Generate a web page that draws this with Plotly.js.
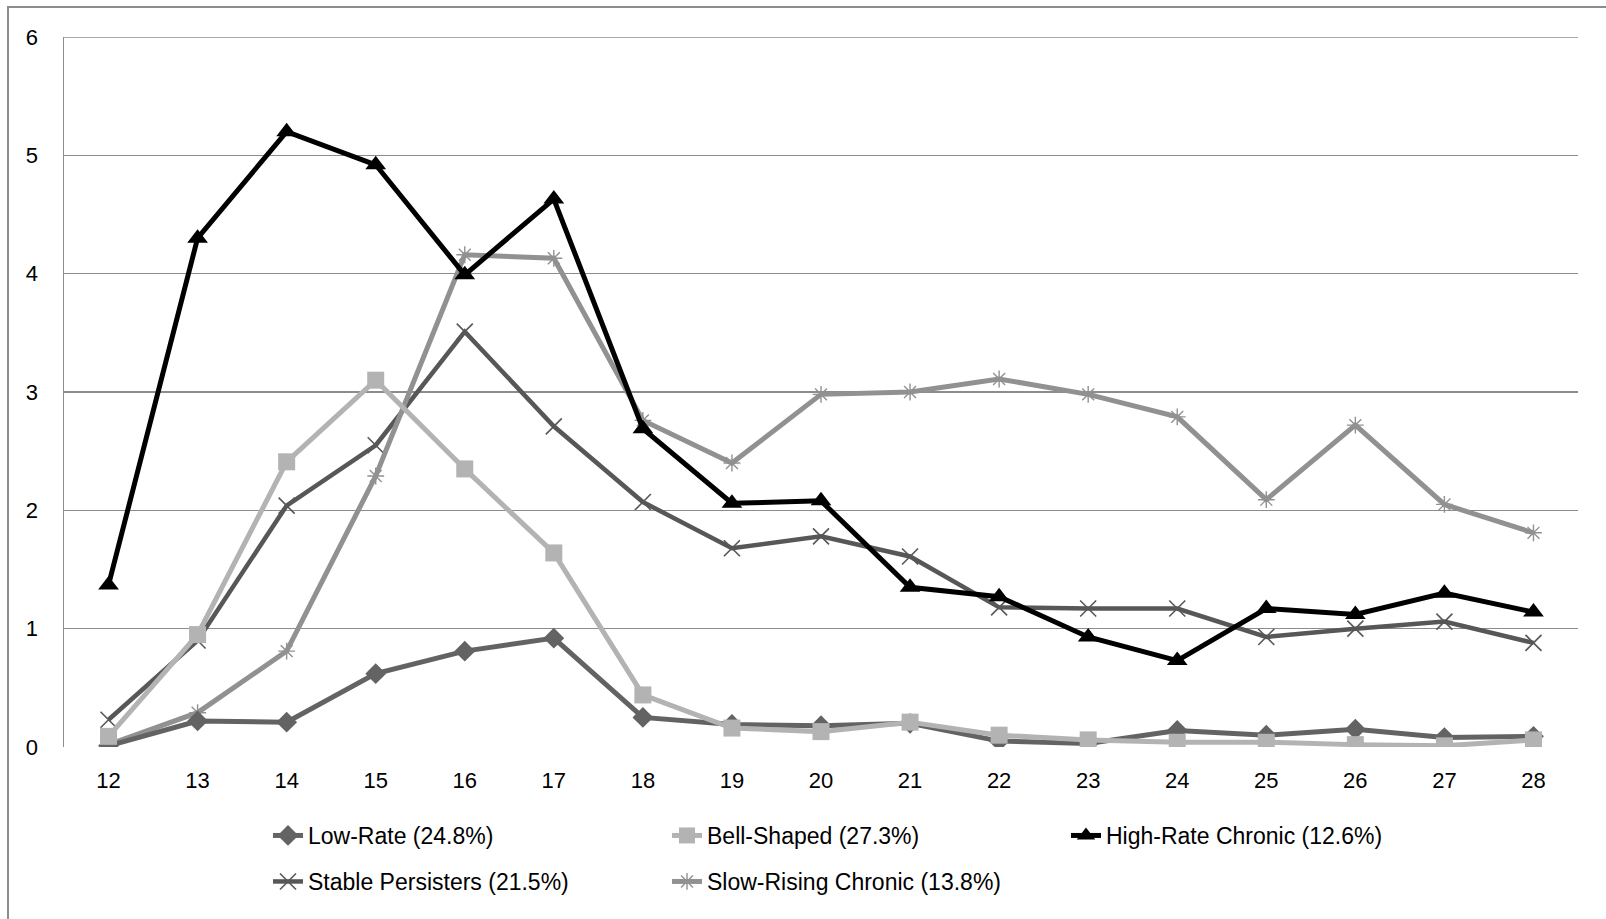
<!DOCTYPE html>
<html>
<head>
<meta charset="utf-8">
<script src="https://cdn.plot.ly/plotly-3.0.1.min.js"></script>
<style>
html,body{margin:0;padding:0;background:#fff;}
#wrap{position:relative;width:1606px;height:919px;overflow:hidden;}
#chart{width:1606px;height:919px;}
#frame{position:absolute;left:7px;top:6px;width:1700px;height:1000px;border-left:2px solid #8c8c8c;border-top:2px solid #8c8c8c;pointer-events:none;}
</style>
</head>
<body>
<div id="wrap">
<div id="chart"></div>
<div id="frame"></div>
</div>
<script>
var ages = [12,13,14,15,16,17,18,19,20,21,22,23,24,25,26,27,28];
var lowRate      = [0.01,0.22,0.21,0.62,0.81,0.92,0.25,0.19,0.18,0.20,0.05,0.03,0.14,0.10,0.15,0.08,0.09];
var bellShaped   = [0.09,0.95,2.41,3.10,2.35,1.64,0.44,0.16,0.13,0.21,0.10,0.06,0.04,0.04,0.02,0.01,0.06];
var highRate     = [1.37,4.30,5.20,4.92,3.99,4.63,2.69,2.06,2.08,1.35,1.27,0.93,0.73,1.17,1.12,1.30,1.14];
var stablePers   = [0.23,0.90,2.04,2.55,3.51,2.71,2.07,1.68,1.78,1.61,1.18,1.17,1.17,0.93,1.00,1.06,0.88];
var slowRising   = [0.02,0.29,0.81,2.29,4.16,4.13,2.76,2.40,2.98,3.00,3.11,2.98,2.79,2.09,2.72,2.05,1.81];
var names = ['Low-Rate (24.8%)','Bell-Shaped (27.3%)','High-Rate Chronic (12.6%)','Stable Persisters (21.5%)','Slow-Rising Chronic (13.8%)'];
var yTicks = [0,1,2,3,4,5,6];

var FONT = 'Liberation Sans, Arial, sans-serif';

function tr(y, name, color, symbol, msize, lw, legend, mline){
  return {
    x: ages, y: y, name: name, type: 'scatter', mode: 'lines+markers',
    line: {color: color, width: lw},
    marker: {symbol: symbol, size: msize, color: color, line: {color: color, width: mline || 0}},
    legend: legend
  };
}

var data = [
  tr(stablePers, names[3], '#575757', 'x-thin-open', 16, 4.5, 'legend2', 1.6),
  tr(slowRising, names[4], '#919191', 'asterisk-open', 14, 5, 'legend2', 1.4),
  tr(lowRate, names[0], '#636363', 'diamond', 16, 5, 'legend'),
  tr(bellShaped, names[1], '#b3b3b3', 'square', 17, 5, 'legend'),
  tr(highRate, names[2], '#000000', 'triangle-up', 18, 5, 'legend')
];

var mL = 64, mR = 28, mT = 37, mB = 172;
var plotW = 1606 - mL - mR, plotH = 919 - mT - mB;
function px2paperX(px){ return (px - mL)/plotW; }
function px2paperY(py){ return 1 - (py - mT)/plotH; }

var layout = {
  width: 1606, height: 919,
  margin: {l: mL, r: mR, t: mT, b: mB, pad: 0},
  paper_bgcolor: 'rgba(0,0,0,0)', plot_bgcolor: 'rgba(0,0,0,0)',
  font: {family: FONT, size: 22, color: '#000000'},
  showlegend: true,
  xaxis: {
    type: 'linear', range: [11.5, 28.5], tickmode: 'array', tickvals: ages, ticktext: ages.map(String),
    showgrid: false, zeroline: false, showline: false, ticks: '',
    tickfont: {family: FONT, size: 22, color: '#000'}, ticklabelstandoff: 18, fixedrange: true
  },
  yaxis: {
    range: [0, 6], tickmode: 'array', tickvals: yTicks, ticktext: yTicks.map(String),
    showgrid: true, gridcolor: '#8c8c8c', gridwidth: 1.5, zeroline: false,
    showline: true, linecolor: '#8c8c8c', linewidth: 1.5, ticks: '',
    tickfont: {family: FONT, size: 22, color: '#000'}, ticklabelstandoff: 20, fixedrange: true
  },
  legend: {
    orientation: 'h', x: px2paperX(268), xanchor: 'left', y: px2paperY(814), yanchor: 'top',
    entrywidth: 354, font: {family: FONT, size: 23, color: '#000'}, traceorder: 'normal',
    bgcolor: 'rgba(0,0,0,0)'
  },
  legend2: {
    orientation: 'h', x: px2paperX(268), xanchor: 'left', y: px2paperY(860), yanchor: 'top',
    entrywidth: 354, font: {family: FONT, size: 23, color: '#000'}, traceorder: 'normal',
    bgcolor: 'rgba(0,0,0,0)'
  },
  shapes: [
    {type: 'line', xref: 'paper', yref: 'y', x0: 0, x1: 1, y0: 6, y1: 6, layer: 'below', line: {color: '#8c8c8c', width: 1.5}}
  ]
};

Plotly.newPlot('chart', data, layout, {displayModeBar: false, staticPlot: true});
</script>
</body>
</html>
